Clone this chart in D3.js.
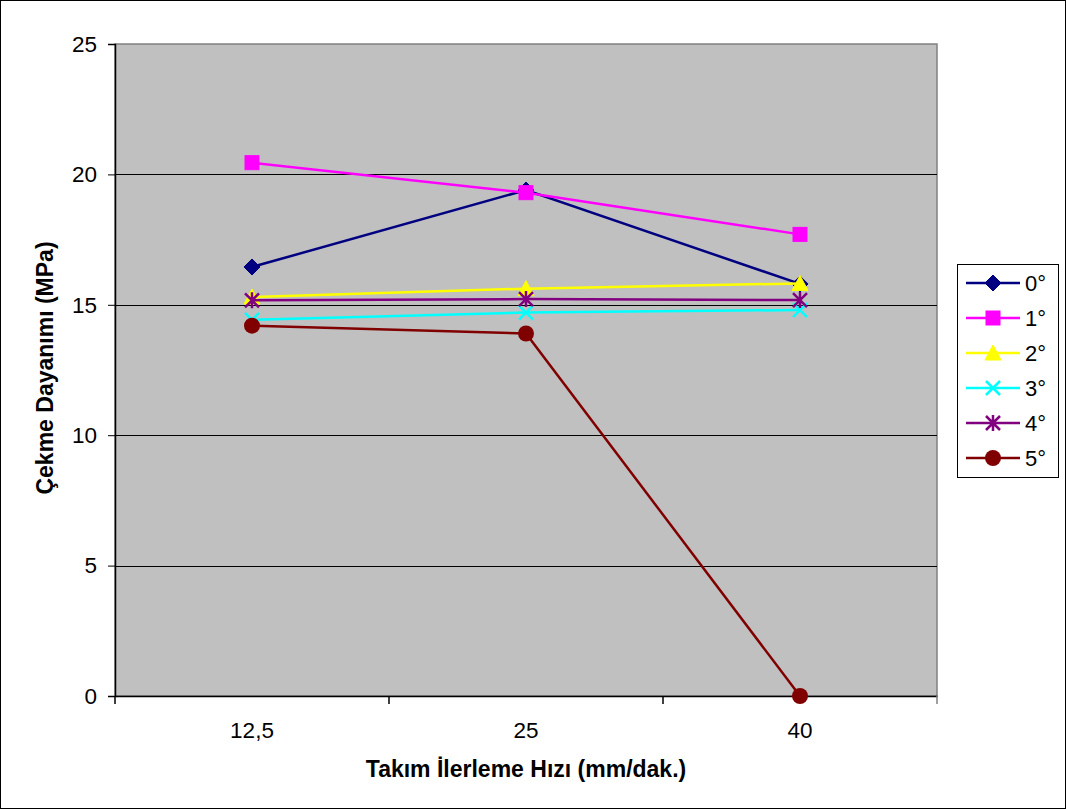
<!DOCTYPE html>
<html>
<head>
<meta charset="utf-8">
<script src="https://cdn.jsdelivr.net/npm/d3@7"></script>
<style>
  html, body { margin: 0; padding: 0; background: #fff; }
  svg { display: block; font-family: "Liberation Sans", Arial, sans-serif; }
</style>
</head>
<body>
<svg id="chart" width="1066" height="809"></svg>
<script>
// Feed rates (mm/dak.) on the x axis
const categories = ["12,5", "25", "40"];
// Tensile strength (MPa) per tool angle
const seriesNames = ["0°", "1°", "2°", "3°", "4°", "5°"];
const values0 = [16.45, 19.4, 15.8];
const values1 = [20.45, 19.3, 17.7];
const values2 = [15.3, 15.62, 15.82];
const values3 = [14.42, 14.7, 14.8];
const values4 = [15.17, 15.22, 15.18];
const values5 = [14.2, 13.9, 0];
const yTicks = [0, 5, 10, 15, 20, 25];

const seriesValues = [values0, values1, values2, values3, values4, values5];
const colors = ["#000080", "#FF00FF", "#FFFF00", "#00FFFF", "#800080", "#800000"];
const markers = ["diamond", "square", "triangle", "x", "star", "circle"];

const FONT = "Liberation Sans, Arial, sans-serif";
const svg = d3.select("#chart");
const W = 1066, H = 809;
const plot = { left: 115, top: 44, right: 937, bottom: 696 };

// outer chart border
svg.append("rect").attr("x", 0.5).attr("y", 0.5).attr("width", W - 1).attr("height", H - 1)
  .attr("fill", "#fff").attr("stroke", "#000").attr("stroke-width", 1);

const x = d3.scaleBand().domain(categories).range([plot.left, plot.right]).paddingInner(0).paddingOuter(0);
const y = d3.scaleLinear().domain([0, 25]).range([plot.bottom, plot.top]);

// plot area
svg.append("rect").attr("x", plot.left).attr("y", plot.top)
  .attr("width", plot.right - plot.left).attr("height", plot.bottom - plot.top)
  .attr("fill", "#C0C0C0").attr("stroke", "#808080").attr("stroke-width", 1.5);

// horizontal gridlines
svg.append("g").selectAll("line").data(yTicks.filter(t => t > 0 && t < 25)).join("line")
  .attr("x1", plot.left).attr("x2", plot.right)
  .attr("y1", d => Math.round(y(d)) + 0.5).attr("y2", d => Math.round(y(d)) + 0.5)
  .attr("stroke", "#000").attr("stroke-width", 1);

// y axis
const yAxis = d3.axisLeft(y).tickValues(yTicks).tickSize(7).tickPadding(11).tickFormat(d3.format("d"));
const gy = svg.append("g").attr("transform", `translate(${plot.left},0)`).call(yAxis);
gy.attr("font-size", null).attr("font-family", null);
gy.select(".domain").attr("stroke", "#000").attr("stroke-width", 1.5);
gy.selectAll(".tick line").attr("stroke", "#000");
gy.selectAll(".tick text").style("font-size", "22.5px").attr("fill", "#000").style("font-family", FONT);

// x axis: ticks sit between categories
const xAxis = d3.axisBottom(x).tickSize(0).tickPadding(26);
const gx = svg.append("g").attr("transform", `translate(0,${plot.bottom})`).call(xAxis);
gx.attr("font-size", null).attr("font-family", null);
gx.select(".domain").attr("stroke", "#000").attr("stroke-width", 1.5);
gx.selectAll(".tick text").style("font-size", "22.5px").attr("fill", "#000").style("font-family", FONT);
const bounds = [plot.left].concat(categories.map(c => x(c) + x.bandwidth()));
svg.append("g").selectAll("line").data(bounds).join("line")
  .attr("x1", d => d).attr("x2", d => d)
  .attr("y1", plot.bottom).attr("y2", plot.bottom + 8)
  .attr("stroke", (d, i) => i === bounds.length - 1 ? "#808080" : "#000").attr("stroke-width", 1.5);

// axis titles
svg.append("text").attr("x", (plot.left + plot.right) / 2).attr("y", 777)
  .attr("text-anchor", "middle").style("font-size", "23px").attr("font-weight", "bold")
  .text("Takım İlerleme Hızı (mm/dak.)");
svg.append("text").attr("transform", `translate(53,${(plot.top + plot.bottom) / 2 - 2}) rotate(-90)`)
  .attr("text-anchor", "middle").style("font-size", "23px").attr("font-weight", "bold")
  .text("Çekme Dayanımı (MPa)");

// marker drawing
function drawMarker(g, type, color, cx, cy) {
  const s = 7;
  if (type === "diamond") {
    g.append("path").attr("d", `M${cx},${cy - s - 1}L${cx + s + 1},${cy}L${cx},${cy + s + 1}L${cx - s - 1},${cy}Z`)
      .attr("fill", color).attr("stroke", color).attr("stroke-width", 1);
  } else if (type === "square") {
    g.append("rect").attr("x", cx - s).attr("y", cy - s).attr("width", 2 * s).attr("height", 2 * s)
      .attr("fill", color).attr("stroke", color).attr("stroke-width", 1);
  } else if (type === "triangle") {
    g.append("path").attr("d", `M${cx},${cy - s - 1}L${cx + s + 1},${cy + s}L${cx - s - 1},${cy + s}Z`)
      .attr("fill", color).attr("stroke", color).attr("stroke-width", 1);
  } else if (type === "x") {
    g.append("path").attr("d", `M${cx - s},${cy - s}L${cx + s},${cy + s}M${cx - s},${cy + s}L${cx + s},${cy - s}`)
      .attr("stroke", color).attr("stroke-width", 2.5).attr("fill", "none");
  } else if (type === "star") {
    g.append("path").attr("d", `M${cx - s},${cy - s}L${cx + s},${cy + s}M${cx - s},${cy + s}L${cx + s},${cy - s}M${cx},${cy - s - 1}L${cx},${cy + s + 1}`)
      .attr("stroke", color).attr("stroke-width", 2.5).attr("fill", "none");
  } else if (type === "circle") {
    g.append("circle").attr("cx", cx).attr("cy", cy).attr("r", s + 1).attr("fill", color);
  }
}

// series lines and markers
const line = d3.line().x((d, i) => x(categories[i]) + x.bandwidth() / 2).y(d => y(d));
seriesValues.forEach((vals, si) => {
  const g = svg.append("g");
  g.append("path").datum(vals).attr("d", line).attr("fill", "none")
    .attr("stroke", colors[si]).attr("stroke-width", 2.5);
  vals.forEach((v, i) => drawMarker(g, markers[si], colors[si], x(categories[i]) + x.bandwidth() / 2, y(v)));
});

// legend
const legend = { x: 957, y: 264, w: 101, h: 213 };
svg.append("rect").attr("x", legend.x + 0.5).attr("y", legend.y + 0.5).attr("width", legend.w).attr("height", legend.h)
  .attr("fill", "#fff").attr("stroke", "#000").attr("stroke-width", 1);
seriesNames.forEach((name, si) => {
  const ly = 283 + si * 35;
  const g = svg.append("g");
  g.append("line").attr("x1", 966).attr("x2", 1020).attr("y1", ly).attr("y2", ly)
    .attr("stroke", colors[si]).attr("stroke-width", 2.5);
  drawMarker(g, markers[si], colors[si], 993, ly);
  g.append("text").attr("x", 1025).attr("y", ly + 8).style("font-size", "22px").attr("fill", "#000").text(name);
});
</script>
</body>
</html>
